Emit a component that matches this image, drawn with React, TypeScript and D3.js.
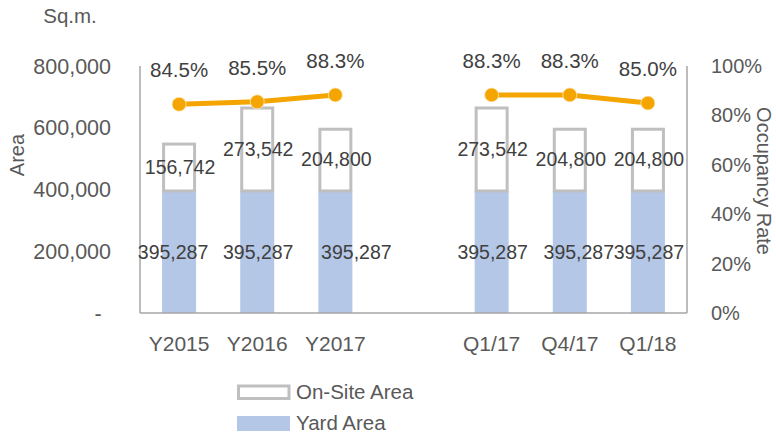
import React from "react";
import * as d3 from "d3";

const categories = ["Y2015", "Y2016", "Y2017", "", "Q1/17", "Q4/17", "Q1/18"];
const yardArea = [395287, 395287, 395287, null, 395287, 395287, 395287];
const onSiteArea = [156742, 273542, 204800, null, 273542, 204800, 204800];
const occupancy = [0.845, 0.855, 0.883, null, 0.883, 0.883, 0.85];
const yardLabelNudge = [-7, 0, 20, 0, 0, 8, 0];
const leftTicks = [0, 200000, 400000, 600000, 800000];
const rightTicks = [0, 0.2, 0.4, 0.6, 0.8, 1.0];

const W = 776;
const H = 436;
const m = { left: 140, right: 687, top: 66, bottom: 313 };
const FONT = "'Liberation Sans', Arial, sans-serif";
const TXT = "#595959";
const ORANGE = "#F5A500";
const BLUE = "#B4C7E7";
const GRAY = "#BFBFBF";
const AXIS = "#A6A6A6";

export default function App() {
  const x = d3.scaleBand<string>()
    .domain(categories.map((c, i) => String(i)))
    .range([m.left, m.right])
    .padding(0);
  const y = d3.scaleLinear().domain([0, 800000]).range([m.bottom, m.top]);
  const yR = d3.scaleLinear().domain([0, 1]).range([m.bottom, m.top]);
  const bw = x.bandwidth() * 0.435;
  const cx = (i: number) => (x(String(i)) as number) + x.bandwidth() / 2;
  const fmt = d3.format(",");
  const pct = d3.format(".1%");

  const pts = occupancy
    .map((v, i) => (v == null ? null : { i, v }))
    .filter((d): d is { i: number; v: number } => d !== null);
  const seg1 = pts.filter((d) => d.i < 3);
  const seg2 = pts.filter((d) => d.i > 3);
  const line = d3.line<{ i: number; v: number }>().x((d) => cx(d.i)).y((d) => yR(d.v));

  return (
    <svg width={W} height={H} style={{ position: "absolute", left: 0, top: 0, background: "#fff" }} fontFamily={FONT}>
      <rect width={W} height={H} fill="#fff" />
      {/* bars */}
      {categories.map((c, i) => {
        const ya = yardArea[i];
        const os = onSiteArea[i];
        if (ya == null || os == null) return null;
        const x0 = cx(i) - bw / 2;
        return (
          <g key={"b" + i}>
            <rect x={x0} y={y(ya)} width={bw} height={y(0) - y(ya)} fill={BLUE} />
            <rect x={x0 + 1.5} y={y(ya + os) + 1.5} width={bw - 3} height={y(ya) - y(ya + os) - 1.5} fill="#fff" stroke={GRAY} strokeWidth={3} />
          </g>
        );
      })}
      {/* axes lines */}
      <line x1={m.left} x2={m.left} y1={m.top} y2={m.bottom} stroke={AXIS} strokeWidth={1.5} />
      <line x1={m.right} x2={m.right} y1={m.top} y2={m.bottom} stroke={AXIS} strokeWidth={1.5} />
      <line x1={m.left} x2={m.right} y1={m.bottom} y2={m.bottom} stroke={AXIS} strokeWidth={1.5} />
      {/* bar labels */}
      {categories.map((c, i) => {
        const ya = yardArea[i];
        const os = onSiteArea[i];
        if (ya == null || os == null) return null;
        return (
          <g key={"l" + i} fontSize={19.5} fill="#404040" textAnchor="middle">
            <text x={cx(i) + 1} y={(y(ya) + y(ya + os)) / 2} dy="0.35em">{fmt(os)}</text>
            <text x={cx(i) + 1 + yardLabelNudge[i]} y={(y(0) + y(ya)) / 2} dy="0.35em">{fmt(ya)}</text>
          </g>
        );
      })}
      {/* line */}
      {[seg1, seg2].map((s, k) => (
        <path key={"p" + k} d={line(s) || ""} fill="none" stroke={ORANGE} strokeWidth={5} />
      ))}
      {pts.map((d) => (
        <g key={"m" + d.i}>
          <circle cx={cx(d.i)} cy={yR(d.v)} r={7} fill={ORANGE} stroke="#FFE9B8" strokeWidth={0.8} />
          <text x={cx(d.i)} y={yR(d.v) - 34} dy="0.35em" textAnchor="middle" fontSize={20.5} fill="#404040">{pct(d.v)}</text>
        </g>
      ))}
      {/* left ticks */}
      {leftTicks.map((t) => (
        t === 0 ? (
          <text key={"lt" + t} x={98} y={y(t)} dy="0.35em" textAnchor="middle" fontSize={21.5} fill={TXT}>-</text>
        ) : (
          <text key={"lt" + t} x={111} y={y(t)} dy="0.35em" textAnchor="end" fontSize={21.5} fill={TXT}>{fmt(t)}</text>
        )
      ))}
      {/* right ticks */}
      {rightTicks.map((t) => (
        <text key={"rt" + t} x={711} y={yR(t)} dy="0.35em" textAnchor="start" fontSize={20} fill={TXT}>{d3.format(".0%")(t)}</text>
      ))}
      {/* category labels */}
      {categories.map((c, i) => (
        c ? <text key={"c" + i} x={cx(i)} y={344} dy="0.35em" textAnchor="middle" fontSize={21} fill={TXT}>{c}</text> : null
      ))}
      {/* titles */}
      <text x={70} y={16} dy="0.35em" textAnchor="middle" fontSize={20.5} fill={TXT}>Sq.m.</text>
      <text transform={`translate(17,155) rotate(-90)`} dy="0.35em" textAnchor="middle" fontSize={20} fill={TXT}>Area</text>
      <text transform={`translate(764,181) rotate(90)`} dy="0.35em" textAnchor="middle" fontSize={20} fill={TXT}>Occupancy Rate</text>
      {/* legend */}
      <rect x={238.5} y={386} width={50.5} height={12.5} fill="#fff" stroke={GRAY} strokeWidth={3} />
      <text x={296} y={392} dy="0.35em" fontSize={20.5} fill={TXT}>On-Site Area</text>
      <rect x={237} y={416} width={53} height={15} fill={BLUE} />
      <text x={296} y={423} dy="0.35em" fontSize={20.5} fill={TXT}>Yard Area</text>
    </svg>
  );
}
